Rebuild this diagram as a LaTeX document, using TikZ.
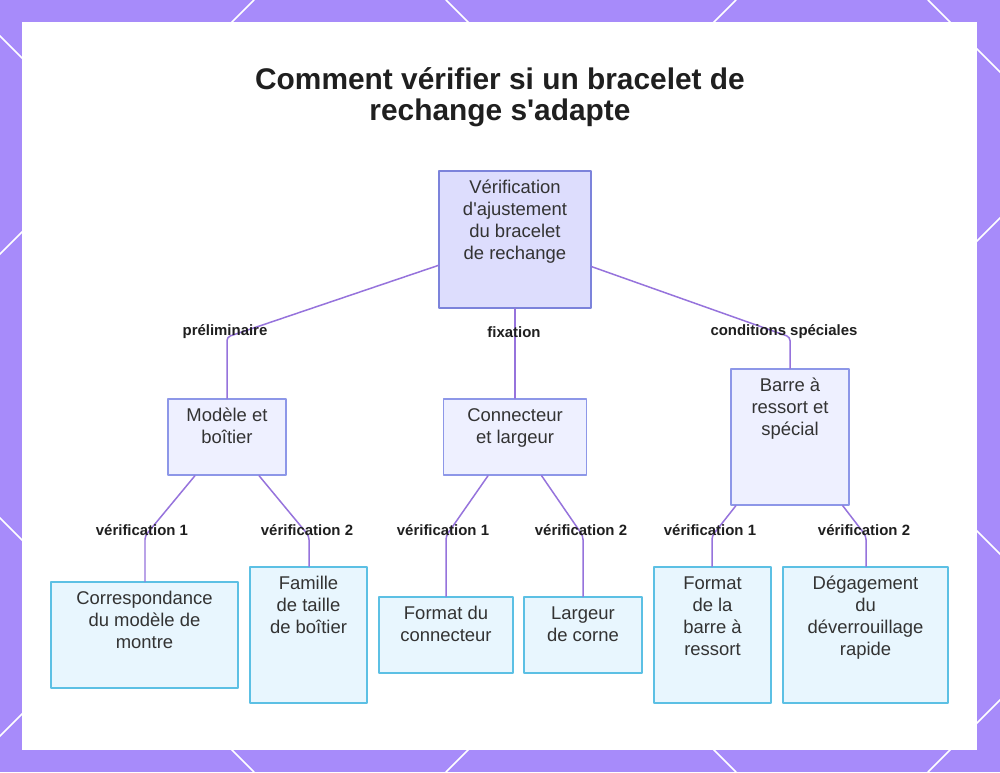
\documentclass[tikz,border=0pt]{standalone}
\usepackage{fontspec}
\setmainfont{Liberation Sans}[Ligatures=TeXOff]
\usetikzlibrary{positioning}
\definecolor{fond}{HTML}{A78BFA}
\definecolor{trait}{HTML}{9673DC}
\definecolor{bordR}{HTML}{7C83DB}
\definecolor{fillR}{HTML}{DDDDFD}
\definecolor{bordA}{HTML}{8D97E8}
\definecolor{fillA}{HTML}{EEF0FF}
\definecolor{bordB}{HTML}{5CC0E4}
\definecolor{fillB}{HTML}{E8F6FE}
\definecolor{texte}{HTML}{333333}
\definecolor{titre}{HTML}{1F1F1F}
\begin{document}
\begin{tikzpicture}[x=0.02cm,y=-0.02cm,line join=round,line cap=round,
	racine/.style={draw=bordR,fill=fillR,line width=0.85pt,inner sep=0pt},
	etape/.style={draw=bordA,fill=fillA,line width=0.85pt,inner sep=0pt},
	feuille/.style={draw=bordB,fill=fillB,line width=0.85pt,inner sep=0pt},
	txt/.style={align=center,inner sep=0pt,anchor=north,text=texte,font=\fontsize{10.5}{12.5}\selectfont},
	lbl/.style={inner sep=1pt,text=titre,font=\fontsize{8.5}{10}\selectfont\bfseries},
	lien/.style={draw=trait,line width=0.85pt,rounded corners=2pt}]
				\useasboundingbox (0,0) rectangle (1000,772);
				\begin{scope}
					\clip (0,0) rectangle (1000,772);
					\fill[fond] (0,0) rectangle (1000,772);
					\foreach \c in {254,736,1218,1700}
						\draw[white,line width=0.9pt] (\c,0) -- (\c-772,772);
					\foreach \d in {-518,-36,446,928}
						\draw[white,line width=0.9pt] (\d,0) -- (\d+772,772);
				\end{scope}
				\fill[white] (22,22) rectangle (977,750);
				\node[align=center,text=titre,font=\fontsize{17}{17.6}\selectfont\bfseries] (titre) at (500,97.5) {Comment vérifier si un bracelet de\\rechange s'adapte};
				\node[racine,minimum width=3.04cm,minimum height=2.74cm] (rac) at (515,239.5) {};
				\node[txt,below=4.5pt of rac.north] (rac-t) {\strut Vérification\\d'ajustement\\du bracelet\\de rechange};
				\node[etape,minimum width=2.36cm,minimum height=1.52cm] (mod) at (227,437) {};
				\node[txt,below=4.5pt of mod.north] (mod-t) {\strut Modèle et\\boîtier};
				\node[etape,minimum width=2.86cm,minimum height=1.52cm] (con) at (515,437) {};
				\node[txt,below=4.5pt of con.north] (con-t) {\strut Connecteur\\et largeur};
				\node[etape,minimum width=2.36cm,minimum height=2.72cm] (bar) at (790,437) {};
				\node[txt,below=4.5pt of bar.north] (bar-t) {\strut Barre à\\ressort et\\spécial};
				\node[feuille,minimum width=3.74cm,minimum height=2.12cm] (cor) at (144.5,635) {};
				\node[txt,below=4.5pt of cor.north] (cor-t) {\strut Correspondance\\du modèle de\\montre};
				\node[feuille,minimum width=2.34cm,minimum height=2.72cm] (fam) at (308.5,635) {};
				\node[txt,below=4.5pt of fam.north] (fam-t) {\strut Famille\\de taille\\de boîtier};
				\node[feuille,minimum width=2.68cm,minimum height=1.52cm] (fco) at (446,635) {};
				\node[txt,below=4.5pt of fco.north] (fco-t) {\strut Format du\\connecteur};
				\node[feuille,minimum width=2.36cm,minimum height=1.52cm] (lar) at (583,635) {};
				\node[txt,below=4.5pt of lar.north] (lar-t) {\strut Largeur\\de corne};
				\node[feuille,minimum width=2.34cm,minimum height=2.72cm] (fba) at (712.5,635) {};
				\node[txt,below=4.5pt of fba.north] (fba-t) {\strut Format\\de la\\barre à\\ressort};
				\node[feuille,minimum width=3.3cm,minimum height=2.72cm] (deg) at (865.5,635) {};
				\node[txt,below=4.5pt of deg.north] (deg-t) {\strut Dégagement\\du\\déverrouillage\\rapide};
				\coordinate (b-pre) at (227,337);
				\coordinate (b-spe) at (790,337);
				\coordinate (b-cor) at (145,536);
				\coordinate (b-fam) at (309,536);
				\coordinate (b-fco) at (446,536);
				\coordinate (b-lar) at (583,536);
				\coordinate (b-fba) at (712,536);
				\coordinate (b-deg) at (866,536);
				\draw[lien] (rac) -- (b-pre) -- (b-pre |- mod.north);
				\draw[lien] (rac) -- (con);
				\draw[lien] (rac) -- (b-spe) -- (b-spe |- bar.north);
				\draw[lien] (mod) -- (b-cor) -- (b-cor |- cor.north);
				\draw[lien] (mod) -- (b-fam) -- (b-fam |- fam.north);
				\draw[lien] (con) -- (b-fco) -- (b-fco |- fco.north);
				\draw[lien] (con) -- (b-lar) -- (b-lar |- lar.north);
				\draw[lien] (bar) -- (b-fba) -- (b-fba |- fba.north);
				\draw[lien] (bar) -- (b-deg) -- (b-deg |- deg.north);
				\node[lbl] (l-pre) at (225,332) {préliminaire};
				\node[lbl] (l-fix) at (514,332) {fixation};
				\node[lbl] (l-spe) at (784,332) {conditions spéciales};
				\node[lbl] (l-cor) at (142,530) {vérification 1};
				\node[lbl] (l-fam) at (307,530) {vérification 2};
				\node[lbl] (l-fco) at (443,530) {vérification 1};
				\node[lbl] (l-lar) at (581,530) {vérification 2};
				\node[lbl] (l-fba) at (710,530) {vérification 1};
				\node[lbl] (l-deg) at (864,530) {vérification 2};
\end{tikzpicture}
\end{document}
